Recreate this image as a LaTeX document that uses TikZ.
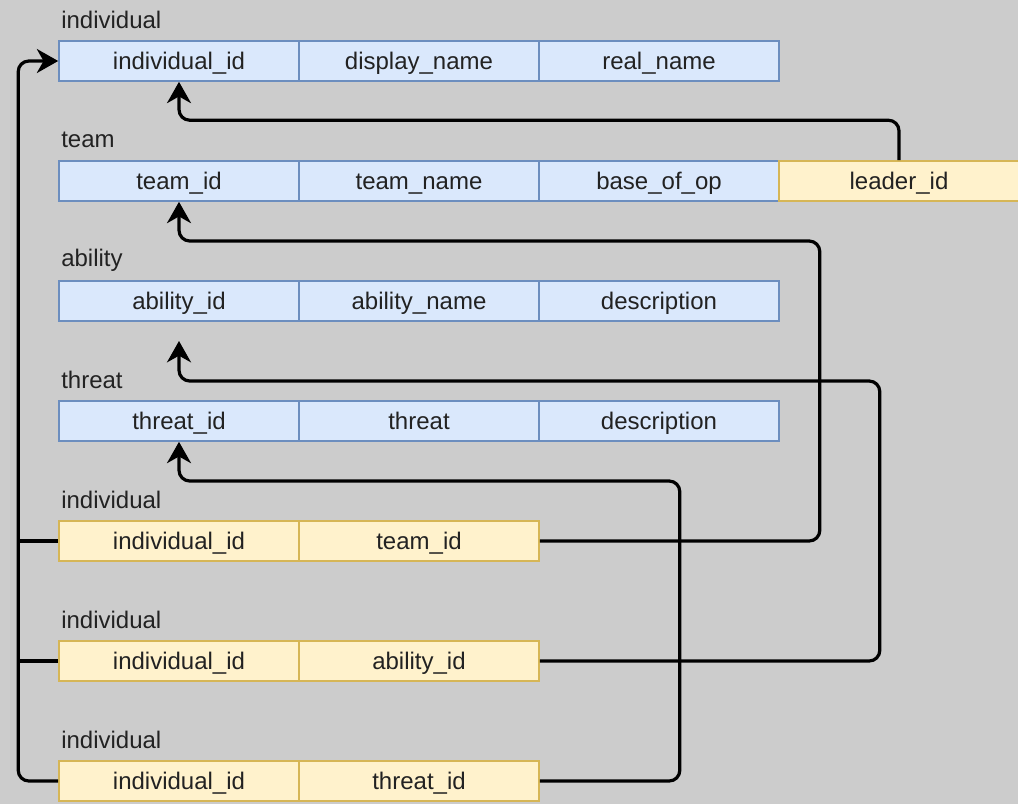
\documentclass[tikz,border=0pt]{standalone}
\usepackage{fontspec}
\setmainfont{Liberation Sans}
\usepackage{tikz}
\usetikzlibrary{arrows.meta}
\definecolor{bgc}{HTML}{CCCCCC}
\definecolor{pkfill}{HTML}{DAE8FC}
\definecolor{pkline}{HTML}{6C8EBF}
\definecolor{fkfill}{HTML}{FFF2CC}
\definecolor{fkline}{HTML}{D6B656}
\definecolor{txt}{HTML}{222222}
\begin{document}
\begin{tikzpicture}[x=0.75pt,y=-0.75pt]
		\tikzstyle{cell} = [draw, rectangle, line width=1.2pt, minimum width=180pt, minimum height=30pt, inner sep=0pt, text height=13pt, text depth=0pt, text=txt, font=\fontsize{18}{21}\selectfont]
		\tikzstyle{pk} = [cell, fill=pkfill, draw=pkline]
		\tikzstyle{fk} = [cell, fill=fkfill, draw=fkline]
		\tikzstyle{title} = [anchor=west, inner sep=0pt, text=txt, font=\fontsize{18}{21}\selectfont]
		\tikzstyle{link} = [line width=2.4pt, rounded corners=8pt]
		\tikzstyle{ref} = [link, -{Stealth[length=16pt,width=18pt,inset=5pt]}]
		\fill[bgc] (0,0) rectangle (1018,804);
		\useasboundingbox (0,0) rectangle (1018,804);

		% individual
		\node [title] (tind) at (61,20) {individual};
		\node [pk] (indid) at (179,61) {individual\_id};
		\node [pk] (dname) at (419,61) {display\_name};
		\node [pk] (rname) at (659,61) {real\_name};
		% team
		\node [title] (tteam) at (61,140) {team};
		\node [pk] (teamid) at (179,181) {team\_id};
		\node [pk] (tname) at (419,181) {team\_name};
		\node [pk] (base) at (659,181) {base\_of\_op};
		\node [fk] (leader) at (899,181) {leader\_id};
		% ability
		\node [title] (tabl) at (61,260) {ability};
		\node [pk] (ablid) at (179,301) {ability\_id};
		\node [pk] (aname) at (419,301) {ability\_name};
		\node [pk] (adesc) at (659,301) {description};
		% threat
		\node [title] (tthr) at (61,380) {threat};
		\node [pk] (thrid) at (179,421) {threat\_id};
		\node [pk] (thr) at (419,421) {threat};
		\node [pk] (tdesc) at (659,421) {description};
		% individual / team
		\node [title] (tm1) at (61,500) {individual};
		\node [fk] (m1ind) at (179,541) {individual\_id};
		\node [fk] (m1team) at (419,541) {team\_id};
		% individual / ability
		\node [title] (tm2) at (61,620) {individual};
		\node [fk] (m2ind) at (179,661) {individual\_id};
		\node [fk] (m2abl) at (419,661) {ability\_id};
		% individual / threat
		\node [title] (tm3) at (61,740) {individual};
		\node [fk] (m3ind) at (179,781) {individual\_id};
		\node [fk] (m3thr) at (419,781) {threat\_id};

		\coordinate (abltip) at (179,341);

		\draw[ref] (leader.north) -- ++(0,-40) -| (indid.south);
		\draw[ref] (m1team.east) -- ++(280,0) -- ++(0,-300) -| (teamid.south);
		\draw[ref] (m2abl.east) -- ++(340,0) -- ++(0,-280) -| (abltip);
		\draw[ref] (m3thr.east) -- ++(140,0) -- ++(0,-300) -| (thrid.south);
		\draw[ref] (m3ind.west) -- ++(-40,0) |- (indid.west);
		\draw[link] (m1ind.west) -- ++(-40,0);
		\draw[link] (m2ind.west) -- ++(-40,0);
	\end{tikzpicture}
\end{document}
